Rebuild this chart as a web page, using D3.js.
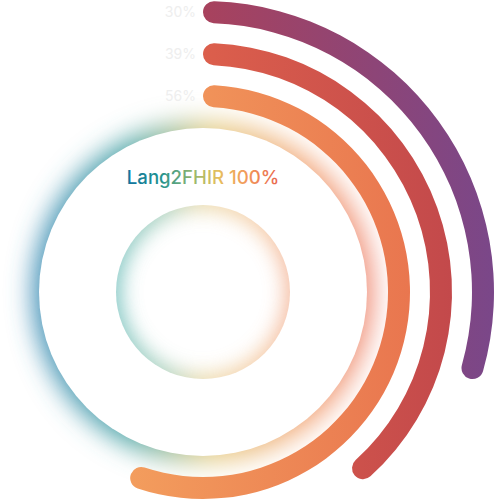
<!DOCTYPE html>
<html>
<head>
<meta charset="utf-8">
<script src="https://cdn.jsdelivr.net/npm/d3@7"></script>
<style>
  html, body { margin: 0; padding: 0; background: #fff; }
  svg { display: block; }
</style>
</head>
<body>
<div id="chart"></div>
<script>
// data
const title   = "Lang2FHIR";
const total   = 100;
const labels  = ["56%", "39%", "30%"];
const values  = [56, 39, 30];

// palette, one pair per ring (left -> right)
const ringColors = [
  ["#f39d5d", "#e9764f"],
  ["#dc5f4c", "#c3494b"],
  ["#a8425d", "#7a4789"]
];
const glowStops = [
  [0.00, "#3f8db8"],
  [0.30, "#4fa7a6"],
  [0.52, "#e6cf86"],
  [0.78, "#f2a777"],
  [1.00, "#ef8a78"]
];
const holeStops = [
  [0.00, "#5fb8b6"],
  [0.30, "#9cc8b0"],
  [0.50, "#e8d39a"],
  [0.80, "#f3c294"],
  [1.00, "#f2a98a"]
];
const textStops = [
  [0.00, "#14729f"],
  [0.22, "#21928f"],
  [0.45, "#9cb86c"],
  [0.60, "#e6bf5e"],
  [0.78, "#f29a5b"],
  [1.00, "#e8654d"]
];

const width  = 496;
const height = 500;
const centre = { x: 203, y: 292 };

const svg = d3.select("#chart").append("svg")
  .attr("width", width)
  .attr("height", height);

const defs = svg.append("defs");

function linGrad(id, stops) {
  const g = defs.append("linearGradient")
    .attr("id", id)
    .attr("x1", "0%").attr("y1", "0%")
    .attr("x2", "100%").attr("y2", "0%");
  stops.forEach(s => g.append("stop").attr("offset", s[0]).attr("stop-color", s[1]));
  return g;
}
linGrad("glowGrad", glowStops);
linGrad("holeGrad", holeStops);
linGrad("textGrad", textStops);
ringColors.forEach((c, i) => linGrad("ring" + i, [[0, c[0]], [1, c[1]]]));

function blur(id, sd) {
  defs.append("filter")
    .attr("id", id)
    .attr("x", "-50%").attr("y", "-50%")
    .attr("width", "200%").attr("height", "200%")
    .append("feGaussianBlur")
    .attr("stdDeviation", sd);
}
blur("outerBlur", 13);
blur("innerBlur", 10);

const x = d3.scaleLinear().domain([0, total]).range([0, 2 * Math.PI]);
const y = d3.scaleBand().domain(labels).range([185, 291]).paddingInner(0.476);

const g = svg.append("g").attr("transform", `translate(${centre.x},${centre.y})`);

// soft coloured halo behind the white disc
const discR = 164;
g.append("circle")
  .attr("r", discR + 6)
  .attr("fill", "url(#glowGrad)")
  .attr("filter", "url(#outerBlur)");
g.append("circle")
  .attr("r", discR)
  .attr("fill", "#fff");

// inner hole with inset glow
const holeR = 87;
defs.append("clipPath").attr("id", "holeClip")
  .append("circle").attr("r", holeR);
g.append("g")
  .attr("clip-path", "url(#holeClip)")
  .append("circle")
  .attr("r", holeR + 8)
  .attr("fill", "none")
  .attr("stroke", "url(#holeGrad)")
  .attr("stroke-width", 26)
  .attr("opacity", 0.8)
  .attr("filter", "url(#innerBlur)");

// rings
const arc = d3.arc()
  .innerRadius(d => y(d.label))
  .outerRadius(d => y(d.label) + y.bandwidth())
  .startAngle(0)
  .endAngle(d => x(d.value))
  .cornerRadius(y.bandwidth() / 2);

const rows = labels.map((l, i) => ({ label: l, value: values[i], idx: i }));

g.selectAll(".ring")
  .data(rows)
  .enter()
  .append("path")
  .attr("class", "ring")
  .attr("d", arc)
  .attr("fill", d => `url(#ring${d.idx})`);

// value labels, left of each ring start
g.selectAll(".ringLabel")
  .data(rows)
  .enter()
  .append("text")
  .attr("class", "ringLabel")
  .attr("x", -7)
  .attr("y", d => -(y(d.label) + y.bandwidth() / 2))
  .attr("dy", "0.35em")
  .attr("text-anchor", "end")
  .style("font-family", "Inter, 'Noto Sans', sans-serif")
  .style("font-size", "14px")
  .style("fill", "#eeeeee")
  .text(d => d.label);

// centre title
g.append("text")
  .attr("x", 0)
  .attr("y", -108)
  .attr("text-anchor", "middle")
  .style("font-family", "Inter, 'Noto Sans', sans-serif")
  .style("font-size", "18.6px")
  .style("font-weight", 500)
  .style("fill", "url(#textGrad)")
  .text(`${title} ${total}%`);
</script>
</body>
</html>
